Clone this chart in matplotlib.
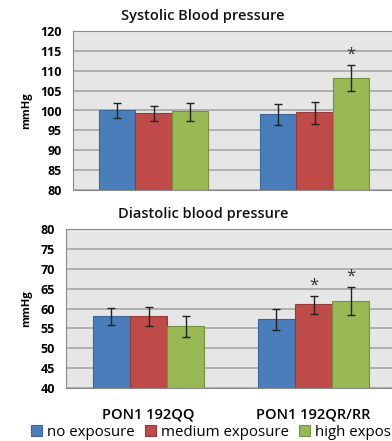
import matplotlib.pyplot as plt
import numpy as np

plt.rcParams['font.family'] = ['Open Sans', 'DejaVu Sans']

groups = ["PON1 192QQ", "PON1 192QR/RR"]
series = ["no exposure", "medium exposure", "high exposure"]
colors = ["#4a7ebb", "#be4b48", "#98b954"]
edges = ["#3b6597", "#943a38", "#77913f"]

# systolic: means and error bar low/high
sys_mean = [[100.0, 99.1], [99.3, 99.6], [99.8, 108.3]]
sys_lo = [[98.0, 96.4], [97.3, 96.6], [97.3, 105.0]]
sys_hi = [[102.0, 101.6], [101.2, 102.2], [101.8, 111.5]]
sys_star = [[False, False], [False, False], [False, True]]

# diastolic
dia_mean = [[58.2, 57.3], [58.2, 61.2], [55.5, 62.0]]
dia_lo = [[55.8, 54.5], [55.5, 58.7], [52.8, 58.4]]
dia_hi = [[60.2, 59.8], [60.4, 63.2], [58.2, 65.5]]
dia_star = [[False, False], [False, True], [False, True]]

fig = plt.figure(figsize=(3.92, 4.41), dpi=100)
ax1 = fig.add_axes([73/392, 1-190/441, 322/392, 159/441])
ax2 = fig.add_axes([66/392, 1-388/441, 330/392, 159/441])

w = 0.225
x = np.arange(len(groups))

def draw(ax, mean, lo, hi, star, ylim, step, title, title_y):
    ax.set_facecolor("#e6e6e6")
    ax.set_ylim(*ylim)
    ax.set_xlim(-0.5, 1.5)
    ax.set_yticks(np.arange(ylim[0], ylim[1]+1, step))
    ax.yaxis.grid(True, color="#a0a0a0", lw=1.1)
    ax.set_axisbelow(True)
    bars = []
    for i in range(3):
        pos = x + (i-1)*w
        m = np.array(mean[i])
        b = ax.bar(pos, m - ylim[0], w, bottom=ylim[0], color=colors[i],
                   edgecolor=edges[i], lw=0.8, label=series[i])
        bars.append(b)
        err = [m - np.array(lo[i]), np.array(hi[i]) - m]
        ax.errorbar(pos, m, yerr=err, fmt='none', ecolor='#222222',
                    elinewidth=1, capsize=3, capthick=1)
        for j in range(2):
            if star[i][j]:
                ax.text(pos[j], hi[i][j] + (ylim[1]-ylim[0])*0.015, "*",
                        ha='center', va='bottom', fontsize=12, color='#333333')
    for s in ax.spines.values():
        s.set_color("#8a8a8a")
    ax.tick_params(axis='y', length=0, labelsize=9, pad=8)
    for t in ax.get_yticklabels():
        t.set_fontweight('bold')
    ax.set_ylabel("mmHg", fontsize=8, fontweight='bold', labelpad=6)
    fig.text(203/392, 1-title_y/441, title, fontsize=10.5, fontweight='semibold',
             ha='center', va='center', color='#111111')
    return bars

draw(ax1, sys_mean, sys_lo, sys_hi, sys_star, (80, 120), 5, "Systolic Blood pressure", 16)
bars = draw(ax2, dia_mean, dia_lo, dia_hi, dia_star, (40, 80), 5, "Diastolic blood pressure", 214)

ax1.set_xticks([])
ax2.set_xticks(x)
ax2.set_xticklabels(groups, fontsize=10.5, fontweight='semibold')
ax2.tick_params(axis='x', length=0, pad=14)

# legend runs past the right edge, as in the original picture
fig.legend(handles=bars, labels=series, loc='center left', bbox_to_anchor=(0.06, 1-432/441),
           ncol=3, frameon=False, fontsize=10.8, handlelength=0.75, handleheight=0.75,
           handletextpad=0.3, columnspacing=0.7, borderpad=0)

fig.savefig("out.png", dpi=100)
